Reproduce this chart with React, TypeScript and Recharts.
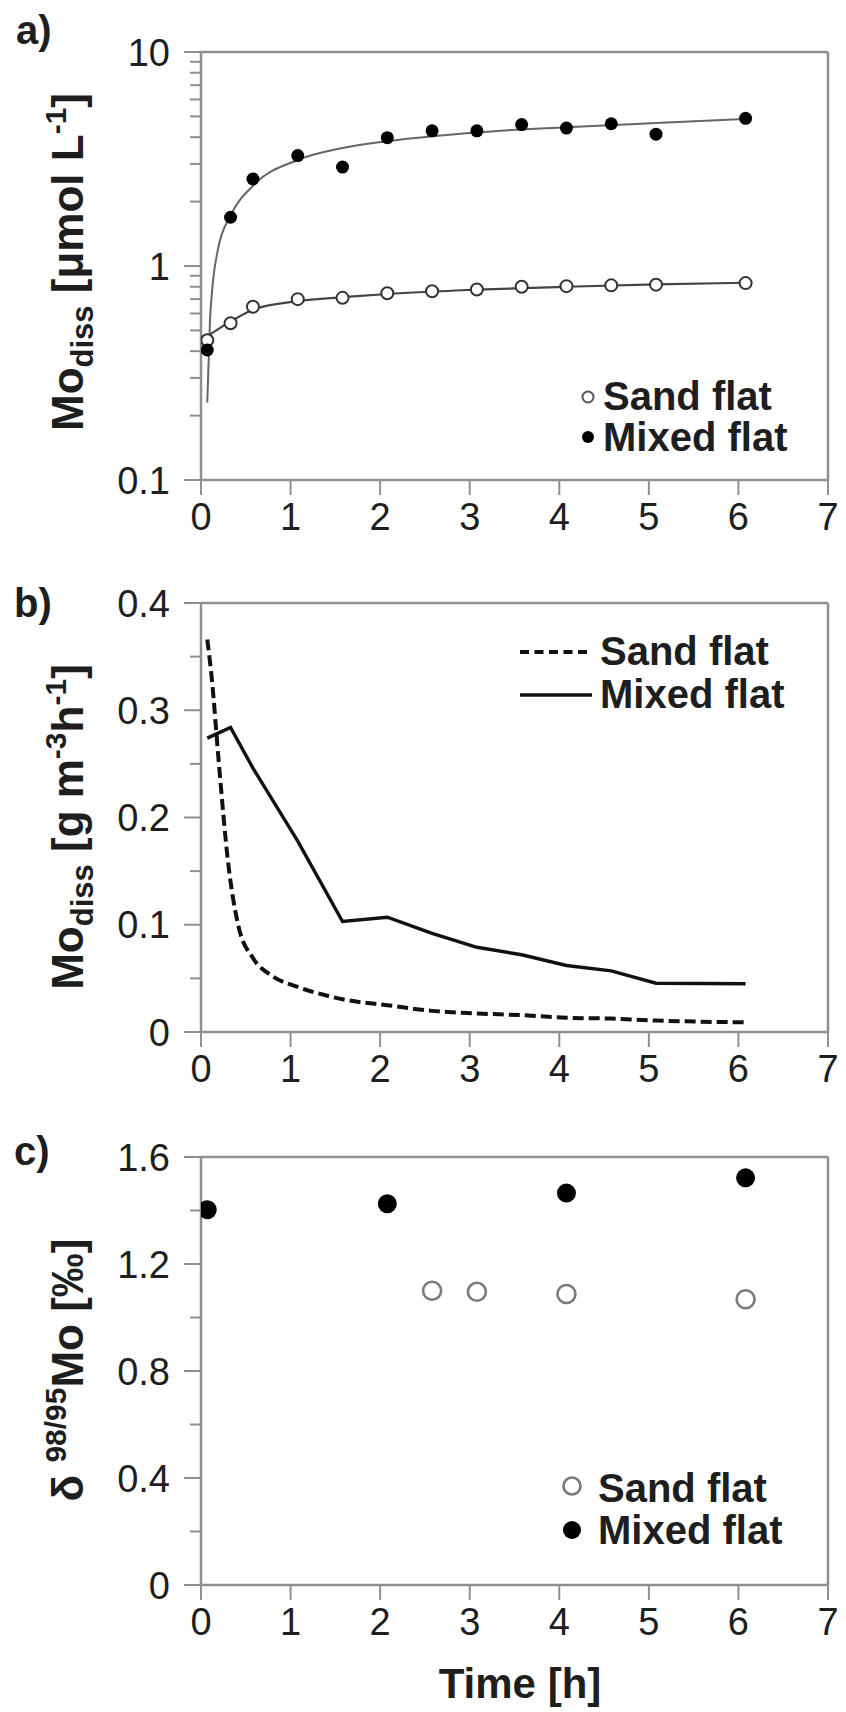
import React from "react";
import { ComposedChart, Line, Scatter, XAxis, YAxis, ReferenceLine } from "recharts";

const FONT = '"Liberation Sans", Arial, Helvetica, sans-serif';
const AXIS = "#8f8f8f";
const TEXT = "#1e1e1e";

// sampling times [h]
const times = [0.07, 0.33, 0.58, 1.08, 1.58, 2.08, 2.58, 3.08, 3.58, 4.08, 4.58, 5.08, 6.08];

// a) Mo_diss [µmol/L]
const sandConc = [0.45, 0.54, 0.645, 0.7, 0.71, 0.746, 0.762, 0.776, 0.8, 0.805, 0.812, 0.818, 0.832];
const mixedConc = [0.405, 1.69, 2.55, 3.28, 2.9, 3.98, 4.28, 4.28, 4.58, 4.41, 4.62, 4.13, 4.9];
// fitted curves
const sandFitT = [0.07, 0.2, 0.33, 0.58, 1.08, 1.58, 2.08, 3.08, 4.08, 5.08, 6.08];
const sandFitV = [0.47, 0.51, 0.55, 0.625, 0.685, 0.715, 0.74, 0.775, 0.8, 0.82, 0.835];
const mixedFitT = [0.07, 0.1, 0.13, 0.19, 0.33, 0.58, 1.08, 1.58, 2.08, 3.08, 4.08, 5.08, 6.08];
const mixedFitV = [0.23, 0.55, 0.82, 1.2, 1.72, 2.37, 3.13, 3.56, 3.83, 4.21, 4.45, 4.66, 4.87];

// b) Mo_diss rate [g m-3 h-1]
const sandRateT = [0.07, 0.12, 0.2, 0.3, 0.42, 0.58, 0.8, 1.08, 1.4, 1.58, 2.08, 2.58, 3.08, 3.58, 4.08, 4.58, 5.08, 6.08];
const sandRateV = [0.366, 0.33, 0.25, 0.16, 0.098, 0.069, 0.052, 0.042, 0.034, 0.0305, 0.025, 0.0197, 0.0173, 0.0157, 0.0133, 0.0125, 0.0107, 0.009];
const mixedRate = [0.274, 0.284, 0.246, 0.178, 0.103, 0.107, 0.092, 0.079, 0.072, 0.062, 0.057, 0.0455, 0.045];

// c) δ98/95Mo [‰]
const sandDeltaT = [2.58, 3.08, 4.08, 6.08];
const sandDeltaV = [1.1, 1.096, 1.088, 1.068];
const mixedDeltaT = [0.07, 2.08, 4.08, 6.08];
const mixedDeltaV = [1.403, 1.425, 1.465, 1.522];

const xTicks = [0, 1, 2, 3, 4, 5, 6, 7];
const aMajor = [0.1, 1, 10];
const aMinor = [0.2, 0.3, 0.4, 0.5, 0.6, 0.7, 0.8, 0.9, 2, 3, 4, 5, 6, 7, 8, 9];
const bMajor = [0, 0.1, 0.2, 0.3, 0.4];
const bMinor = [0.05, 0.15, 0.25, 0.35];
const cMajor = [0, 0.4, 0.8, 1.2, 1.6];
const cMinor = [0.2, 0.6, 1.0, 1.4];

const zip = (t: number[], v: number[]) => t.map((x, i) => ({ t: x, v: v[i] }));

const Y_TICK = 17;
const Y_MARGIN = 14;

function makeYTick(majors: number[], fmt: (v: number) => string) {
  return (props: any) => {
    const { x, y, payload } = props;
    const axisX = x + Y_TICK + Y_MARGIN;
    const major = majors.includes(payload.value);
    return (
      <g>
        <line x1={axisX - (major ? Y_TICK : 11)} x2={axisX} y1={y} y2={y} stroke={AXIS} strokeWidth={2} />
        {major ? (
          <text x={x} y={y} dy="0.36em" textAnchor="end" fontSize={38} fill={TEXT} fontFamily={FONT}>
            {fmt(payload.value)}
          </text>
        ) : null}
      </g>
    );
  };
}

function dot(r: number, fill: string, stroke: string, sw: number) {
  return (p: any) => <circle cx={p.cx} cy={p.cy} r={r} fill={fill} stroke={stroke} strokeWidth={sw} />;
}

function TimeAxis({ height }: { height: number }) {
  return (
    <XAxis
      type="number"
      dataKey="t"
      domain={[0, 7]}
      ticks={xTicks}
      interval={0}
      allowDataOverflow
      height={height}
      tickSize={15}
      tickMargin={8}
      tick={{ fontSize: 38, fill: TEXT, fontFamily: FONT }}
      tickLine={{ stroke: AXIS, strokeWidth: 2 }}
      axisLine={{ stroke: AXIS, strokeWidth: 2.5 }}
    />
  );
}

const chartBox = (top: number): React.CSSProperties => ({ position: "absolute", left: 0, top });

export default function App() {
  const yAxisCommon = {
    width: 201,
    tickSize: Y_TICK,
    tickMargin: Y_MARGIN,
    tickLine: false,
    interval: 0 as const,
    allowDataOverflow: true,
    axisLine: { stroke: AXIS, strokeWidth: 2.5 },
  };

  return (
    <div style={{ position: "absolute", left: 0, top: 0, width: 846, height: 1712, background: "#fff" }}>
      {/* a) concentration, log scale */}
      <div style={chartBox(0)}>
        <ComposedChart width={846} height={540} margin={{ top: 52, right: 18, left: 0, bottom: 0 }}>
          {TimeAxis({ height: 60 })}
          <YAxis
            {...yAxisCommon}
            type="number"
            scale="log"
            domain={[0.1, 10]}
            ticks={[...aMajor, ...aMinor]}
            tick={makeYTick(aMajor, (v) => String(v))}
          />
          <ReferenceLine y={10} stroke={AXIS} strokeWidth={2.5} />
          <ReferenceLine x={7} stroke={AXIS} strokeWidth={2.5} />
          <Line data={zip(mixedFitT, mixedFitV)} dataKey="v" type="monotone" stroke="#666" strokeWidth={2} dot={false} isAnimationActive={false} />
          <Line data={zip(sandFitT, sandFitV)} dataKey="v" type="monotone" stroke="#444" strokeWidth={2.2} dot={false} isAnimationActive={false} />
          <Scatter data={zip(times, sandConc)} dataKey="v" shape={dot(6, "#fff", "#333", 2)} isAnimationActive={false} />
          <Scatter data={zip(times, mixedConc)} dataKey="v" shape={dot(6.5, "#000", "#000", 0)} isAnimationActive={false} />
        </ComposedChart>
      </div>

      {/* b) release rate */}
      <div style={chartBox(550)}>
        <ComposedChart width={846} height={540} margin={{ top: 53, right: 18, left: 0, bottom: 0 }}>
          {TimeAxis({ height: 58 })}
          <YAxis
            {...yAxisCommon}
            type="number"
            domain={[0, 0.4]}
            ticks={[...bMajor, ...bMinor]}
            tick={makeYTick(bMajor, (v) => String(v))}
          />
          <ReferenceLine y={0.4} stroke={AXIS} strokeWidth={2.5} />
          <ReferenceLine x={7} stroke={AXIS} strokeWidth={2.5} />
          <Line data={zip(sandRateT, sandRateV)} dataKey="v" type="monotone" stroke="#111" strokeWidth={4} strokeDasharray="11 5" dot={false} isAnimationActive={false} />
          <Line data={zip(times, mixedRate)} dataKey="v" type="linear" stroke="#111" strokeWidth={3.4} dot={false} isAnimationActive={false} />
        </ComposedChart>
      </div>

      {/* c) isotope composition */}
      <div style={chartBox(1105)}>
        <ComposedChart width={846} height={540} margin={{ top: 52, right: 18, left: 0, bottom: 0 }}>
          {TimeAxis({ height: 60 })}
          <YAxis
            {...yAxisCommon}
            type="number"
            domain={[0, 1.6]}
            ticks={[...cMajor, ...cMinor]}
            tick={makeYTick(cMajor, (v) => (v === 0 ? "0" : v.toFixed(1)))}
          />
          <ReferenceLine y={1.6} stroke={AXIS} strokeWidth={2.5} />
          <ReferenceLine x={7} stroke={AXIS} strokeWidth={2.5} />
          <Scatter data={zip(sandDeltaT, sandDeltaV)} dataKey="v" shape={dot(9, "#fff", "#7a7a7a", 2.6)} isAnimationActive={false} />
          <Scatter data={zip(mixedDeltaT, mixedDeltaV)} dataKey="v" shape={dot(9.5, "#000", "#000", 0)} isAnimationActive={false} />
        </ComposedChart>
      </div>

      {/* titles, panel letters, legends */}
      <svg width={846} height={1712} style={{ position: "absolute", left: 0, top: 0, pointerEvents: "none" }} fontFamily={FONT}>
        <g fontWeight="bold" fontSize={40} fill={TEXT}>
          <text x={16} y={44}>a)</text>
          <text x={14} y={617}>b)</text>
          <text x={14} y={1165}>c)</text>
        </g>

        <g fontWeight="bold" fontSize={44} fill={TEXT}>
          <text transform="rotate(-90)" x={-262} y={83} textAnchor="middle">
            Mo<tspan dy={10} fontSize={31}>diss</tspan>
            <tspan dy={-10}> [μmol L</tspan>
            <tspan dy={-17} fontSize={30}>-1</tspan>
            <tspan dy={17}>]</tspan>
          </text>
          <text transform="rotate(-90)" x={-827} y={83} textAnchor="middle">
            Mo<tspan dy={10} fontSize={31}>diss</tspan>
            <tspan dy={-10}> [g m</tspan>
            <tspan dy={-17} fontSize={30}>-3</tspan>
            <tspan dy={17}>h</tspan>
            <tspan dy={-17} fontSize={30}>-1</tspan>
            <tspan dy={17}>]</tspan>
          </text>
          <text transform="rotate(-90)" x={-1370} y={83} textAnchor="middle">
            δ <tspan dy={-17} fontSize={30}>98/95</tspan>
            <tspan dy={17}>Mo [‰]</tspan>
          </text>
          <text x={520} y={1698} textAnchor="middle" fontSize={42}>Time [h]</text>
        </g>

        {/* legend a */}
        <g fontWeight="bold" fontSize={40} fill={TEXT}>
          <circle cx={588} cy={397} r={5.5} fill="#fff" stroke="#555" strokeWidth={2} />
          <text x={603} y={410}>Sand flat</text>
          <circle cx={588} cy={437} r={6} fill="#000" />
          <text x={603} y={451}>Mixed flat</text>
        </g>

        {/* legend b */}
        <g fontWeight="bold" fontSize={40} fill={TEXT}>
          <line x1={520} x2={592} y1={652} y2={652} stroke="#111" strokeWidth={4} strokeDasharray="9 5.5" />
          <text x={600} y={665}>Sand flat</text>
          <line x1={520} x2={592} y1={695} y2={695} stroke="#111" strokeWidth={3.4} />
          <text x={600} y={708}>Mixed flat</text>
        </g>

        {/* legend c */}
        <g fontWeight="bold" fontSize={40} fill={TEXT}>
          <circle cx={572} cy={1486} r={8.5} fill="#fff" stroke="#7a7a7a" strokeWidth={2.6} />
          <text x={598} y={1502}>Sand flat</text>
          <circle cx={572} cy={1530} r={9} fill="#000" />
          <text x={598} y={1544}>Mixed flat</text>
        </g>
      </svg>
    </div>
  );
}
